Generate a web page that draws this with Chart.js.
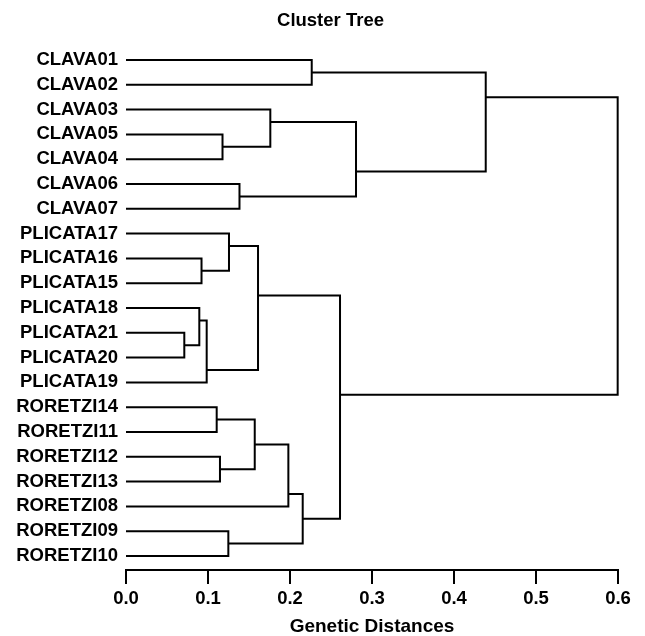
<!DOCTYPE html>
<html><head><meta charset="utf-8">
<script src="https://cdn.jsdelivr.net/npm/chart.js@4/dist/chart.umd.min.js"></script>
<style>html,body{margin:0;padding:0;background:#fff;} #wrap{width:645px;height:636px;}</style>
</head><body><div id="wrap"><canvas id="c" width="645" height="636"></canvas></div>
<script>
// ---- data ----
const chartTitle = "Cluster Tree";
const axisTitle = "Genetic Distances";
const leaves = ["CLAVA01","CLAVA02","CLAVA03","CLAVA05","CLAVA04","CLAVA06","CLAVA07",
  "PLICATA17","PLICATA16","PLICATA15","PLICATA18","PLICATA21","PLICATA20","PLICATA19",
  "RORETZI14","RORETZI11","RORETZI12","RORETZI13","RORETZI08","RORETZI09","RORETZI10"];
// merge steps (R hclust style): negative = leaf (1-based row), positive = earlier merge step
const mergeA = [-12, -4, -9, -11, 4, -15, -17, -1, -8, -3, -6, -20, 6, 9, 13, 15, 10, 14, 8, 19];
const mergeB = [-13, -5, -10, 1, -14, -16, -18, -2, 3, 2, -7, -21, 7, 5, -19, 12, 11, 16, 17, 18];
const mergeHeight = [0.0711, 0.1177, 0.0921, 0.0894, 0.0984, 0.1106, 0.1146, 0.2265, 0.1256, 0.1760,
  0.1384, 0.1248, 0.1570, 0.1610, 0.1980, 0.2155, 0.2805, 0.2610, 0.4387, 0.5996];
// vertical position of each merge node, in leaf-row units
const mergePos = [11.5, 3.5, 8.5, 10.5, 12.5, 14.5, 16.5, 0.5, 7.5, 2.5,
  5.5, 19.5, 15.5, 9.5, 17.5, 18.5, 4.5, 13.5, 1.5, 7.5];
const xTicks = [0.0, 0.1, 0.2, 0.3, 0.4, 0.5, 0.6];

// ---- build ----
const FAM = '"Liberation Sans", Arial, Helvetica, sans-serif';
function ref(r) {
  return r < 0 ? { h: 0, y: -r - 1 } : { h: mergeHeight[r - 1], y: mergePos[r - 1] };
}
const datasets = mergeA.map((a, i) => {
  const A = ref(a), B = ref(mergeB[i]), h = mergeHeight[i];
  return {
    data: [{ x: A.h, y: A.y }, { x: h, y: A.y }, { x: h, y: B.y }, { x: B.h, y: B.y }],
    showLine: true, fill: false, tension: 0, pointRadius: 0, pointHoverRadius: 0,
    borderColor: '#000', borderWidth: 2, borderJoinStyle: 'miter', clip: false
  };
});

const titlePlugin = {
  id: 'ctitle',
  afterDraw(chart) {
    const ctx = chart.ctx;
    ctx.save();
    ctx.font = 'bold 18.5px ' + FAM;
    ctx.fillStyle = '#000';
    ctx.textAlign = 'center';
    ctx.textBaseline = 'middle';
    ctx.fillText(chartTitle, 330.5, 21);
    ctx.restore();
  }
};

new Chart(document.getElementById('c'), {
  type: 'scatter',
  data: { datasets },
  plugins: [titlePlugin],
  options: {
    responsive: false, animation: false, events: [],
    layout: { padding: { top: 47.6, right: 27, bottom: 0, left: 0 } },
    plugins: { legend: { display: false }, tooltip: { enabled: false }, title: { display: false } },
    scales: {
      x: {
        type: 'linear', min: 0, max: 0.6,
        afterBuildTicks: s => { s.ticks = xTicks.map(v => ({ value: v })); },
        ticks: { callback: v => Number(v).toFixed(1), font: { family: FAM, size: 18.5, weight: 'bold' },
                 color: '#000', padding: 4, maxRotation: 0, autoSkip: false },
        grid: { drawOnChartArea: false, drawTicks: true, tickLength: 14, color: '#000', lineWidth: 2 },
        border: { display: true, color: '#000', width: 2 },
        title: { display: true, text: axisTitle, color: '#000',
                 font: { family: FAM, size: 19, weight: 'bold', lineHeight: 1 }, padding: { top: 0, bottom: 0 } },
        afterFit: s => { s.height = 66; }
      },
      y: {
        type: 'linear', reverse: true, min: -0.5, max: 20.565,
        afterBuildTicks: s => { s.ticks = leaves.map((_, i) => ({ value: i })); },
        ticks: { callback: (v, i) => leaves[i], font: { family: FAM, size: 18.5, weight: 'bold' },
                 color: '#000', padding: 8, autoSkip: false },
        grid: { display: false, drawTicks: false },
        border: { display: false },
        afterFit: s => { s.width = 126; }
      }
    }
  }
});
</script>
</body></html>
